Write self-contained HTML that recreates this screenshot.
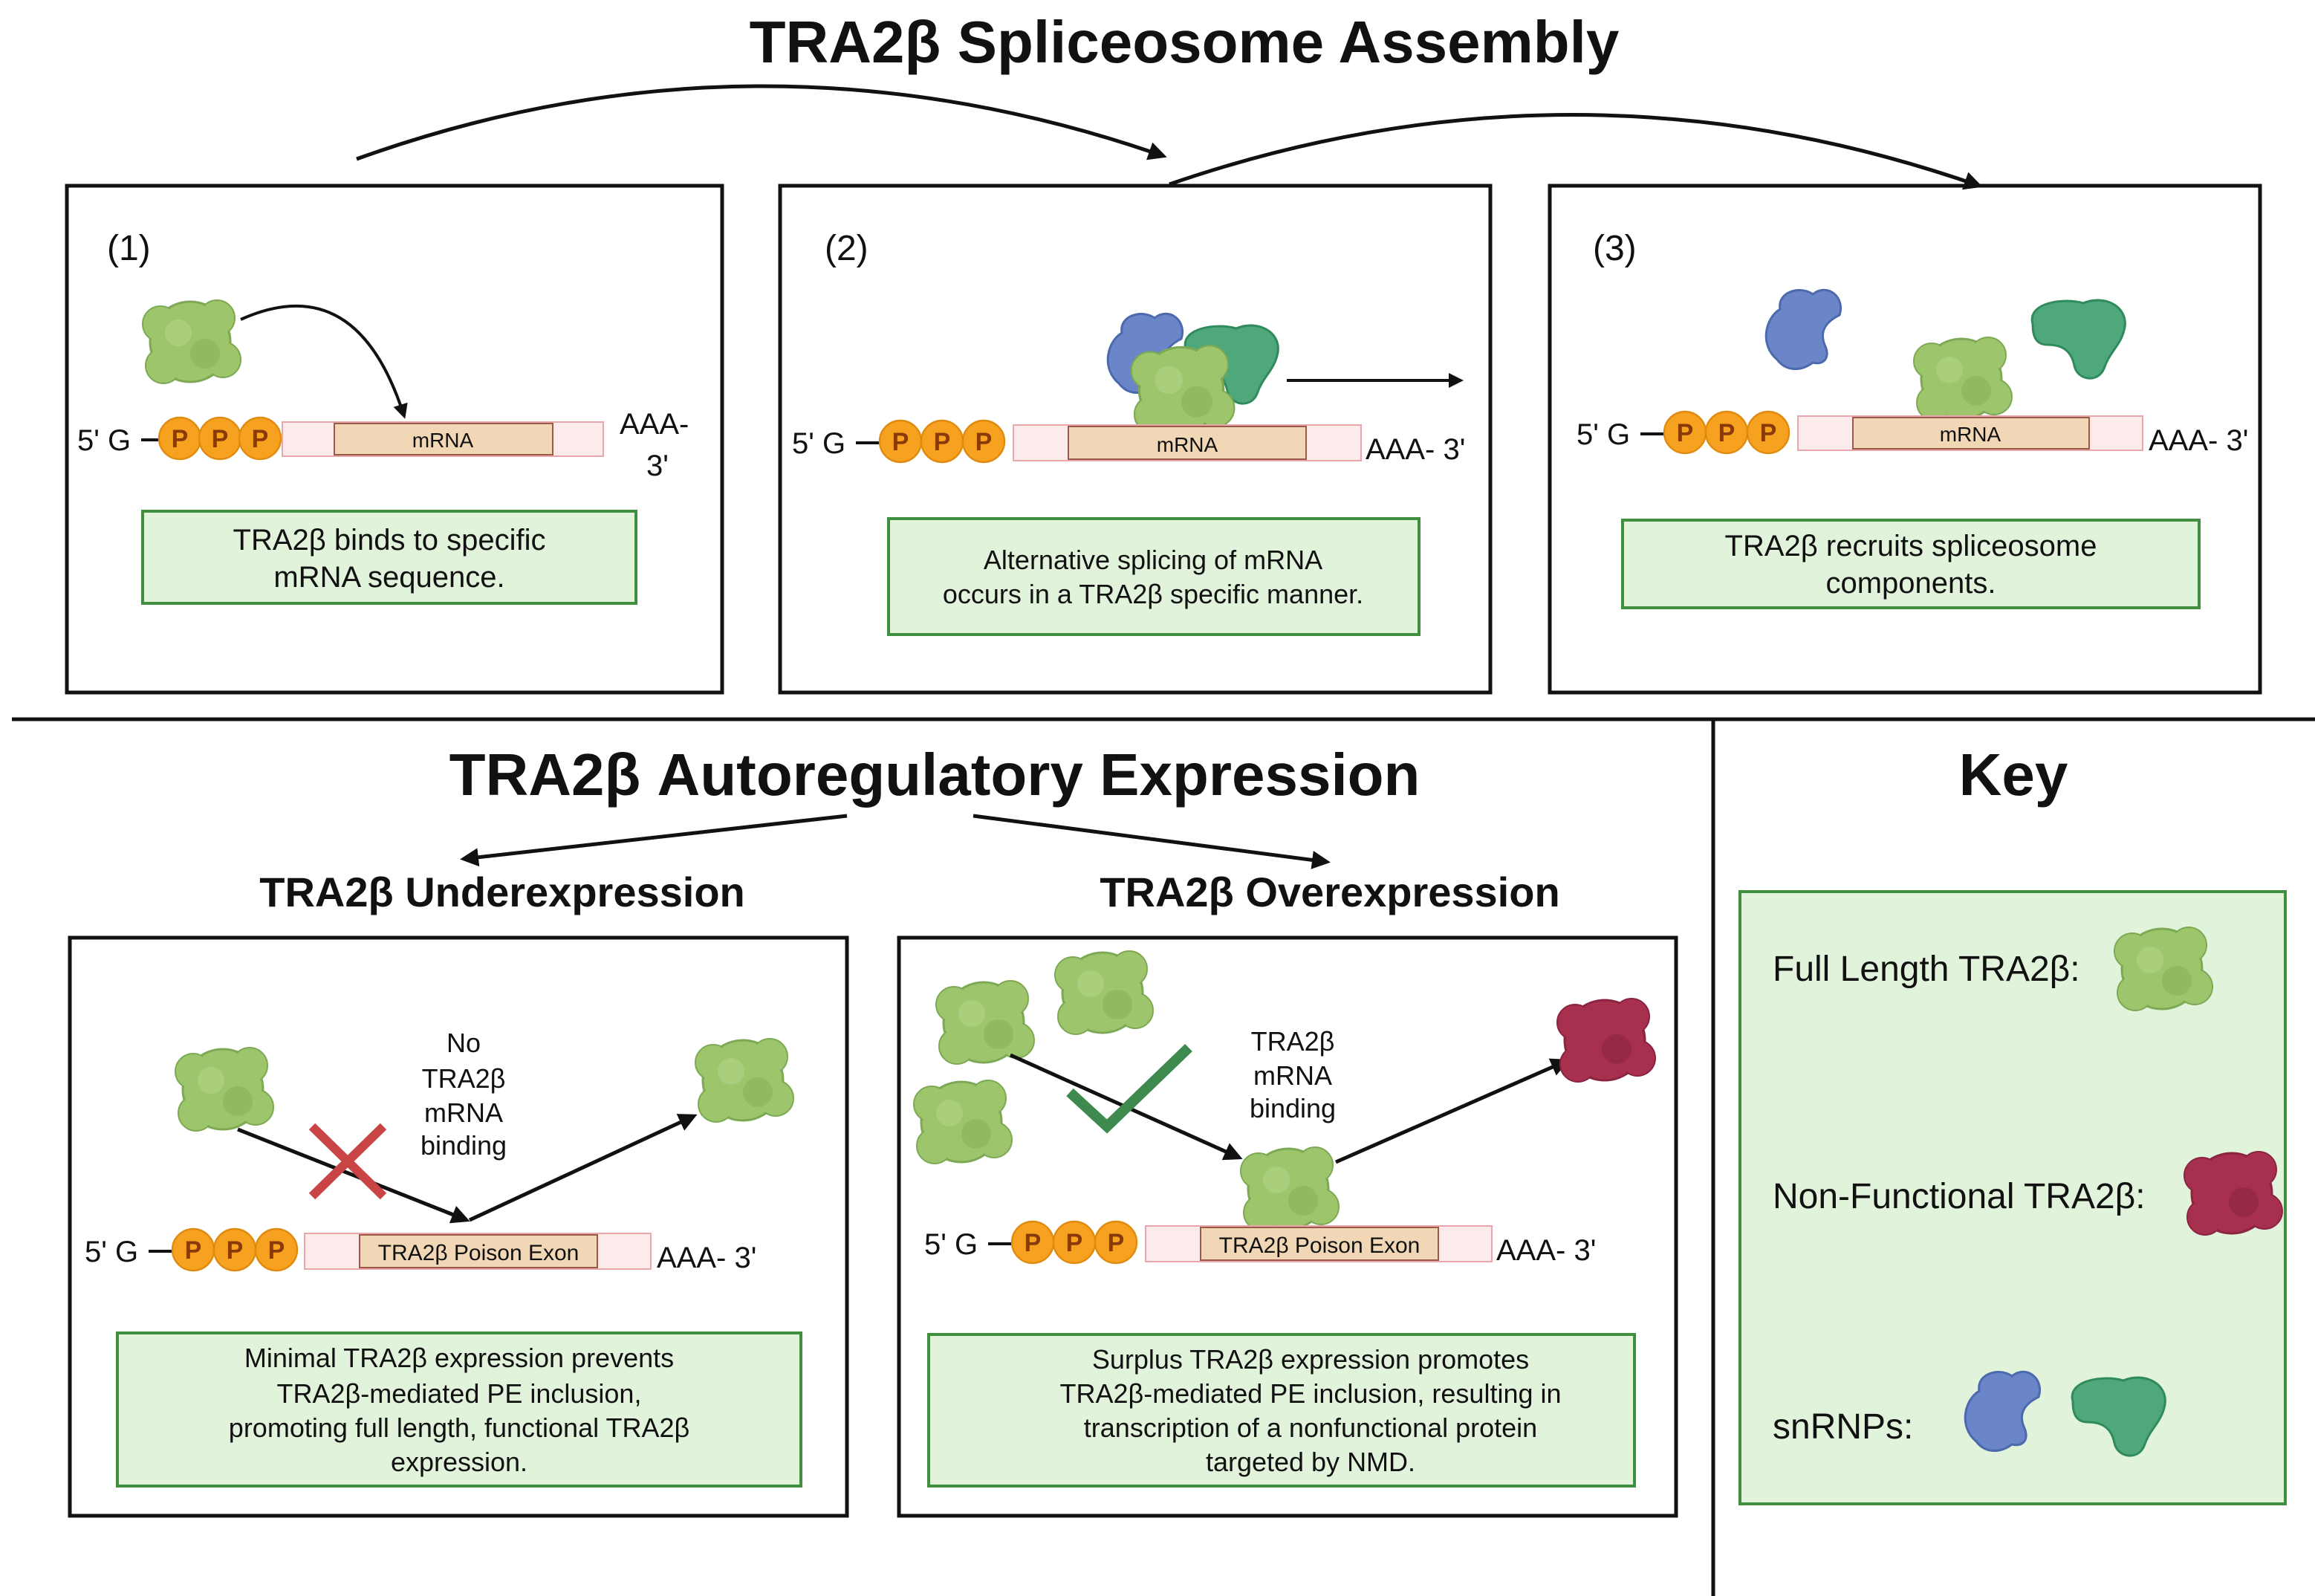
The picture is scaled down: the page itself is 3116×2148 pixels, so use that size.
<!DOCTYPE html>
<html><head><meta charset="utf-8"><style>
html,body{margin:0;padding:0;background:#fff}
svg{display:block}
text{font-family:"Liberation Sans",sans-serif;fill:#111}
.b{font-weight:bold}
</style></head><body>
<svg width="3116" height="2148" viewBox="0 0 1558 1074" xmlns="http://www.w3.org/2000/svg">
<defs>
<marker id="ah" viewBox="0 0 10 10" refX="8" refY="5" markerWidth="5" markerHeight="5" orient="auto"><path d="M0,0L10,5L0,10z" fill="#111"/></marker>
<g id="lg">
 <circle cx="0" cy="0" r="27" fill="#9cc56c" stroke="#7da955" stroke-width="1.5"/>
 <circle cx="-20" cy="-12" r="12" fill="#9cc56c" stroke="#7da955"/>
 <circle cx="18" cy="-16" r="12" fill="#9cc56c" stroke="#7da955"/>
 <circle cx="22" cy="12" r="12" fill="#9cc56c" stroke="#7da955"/>
 <circle cx="-18" cy="16" r="12" fill="#9cc56c" stroke="#7da955"/>
 <circle cx="0" cy="0" r="26" fill="#9cc56c"/>
 <circle cx="-8" cy="-6" r="9" fill="#a9cf7c"/><circle cx="10" cy="8" r="10" fill="#8fbb5e"/>
</g>
<g id="rd">
 <circle cx="0" cy="0" r="27" fill="#a8304f" stroke="#8a2440" stroke-width="1.5"/>
 <circle cx="-20" cy="-12" r="12" fill="#a8304f" stroke="#8a2440"/>
 <circle cx="18" cy="-16" r="12" fill="#a8304f" stroke="#8a2440"/>
 <circle cx="22" cy="12" r="12" fill="#a8304f" stroke="#8a2440"/>
 <circle cx="-18" cy="16" r="12" fill="#a8304f" stroke="#8a2440"/>
 <circle cx="0" cy="0" r="26" fill="#a8304f"/><circle cx="8" cy="6" r="10" fill="#962a46"/>
</g>
<g id="bl">
 <path d="M-22,20 C-34,10 -30,-8 -20,-14 C-22,-26 -6,-30 2,-24 C12,-32 24,-22 20,-10 C12,-6 6,0 10,10 C14,18 10,24 2,22 C-6,28 -16,28 -22,20z" fill="#6a86c9" stroke="#4d69ad" stroke-width="1.5"/>
</g>
<g id="gr">
 <path d="M-30,-10 C-34,-24 -10,-28 4,-24 C18,-30 34,-22 32,-8 C30,4 22,8 18,20 C14,30 0,28 -2,18 C-4,8 -10,4 -20,4 C-28,4 -30,-2 -30,-10z" fill="#4fa87c" stroke="#2f8a5c" stroke-width="1.5"/>
</g>
<g id="p">
 <circle r="14" fill="#f6a11f" stroke="#e08a10" stroke-width="1.2"/>
 <text y="6" text-anchor="middle" font-size="17" class="b" style="fill:#8a3a0a">P</text>
</g>
</defs>

<text x="797" y="42" text-anchor="middle" font-size="40" class="b">TRA2β Spliceosome Assembly</text>
<path d="M240,107 Q510,10 783,105" fill="none" stroke="#111" stroke-width="2.5" marker-end="url(#ah)"/>
<path d="M787,124 Q1060,30 1332,125" fill="none" stroke="#111" stroke-width="2.5" marker-end="url(#ah)"/>

<g fill="none" stroke="#111" stroke-width="2.5">
<rect x="45" y="125" width="441" height="341"/>
<rect x="525" y="125" width="478" height="341"/>
<rect x="1043" y="125" width="478" height="341"/>
<rect x="47" y="631" width="523" height="389"/>
<rect x="605" y="631" width="523" height="389"/>
<line x1="8" y1="484" x2="1560" y2="484"/>
<line x1="1153" y1="484" x2="1153" y2="1074"/>
</g>

<!-- Panel 1 -->
<text x="72" y="175" font-size="24">(1)</text>
<use href="#lg" x="128" y="230"/>
<path d="M162,215 Q240,180 272,280" fill="none" stroke="#111" stroke-width="2" marker-end="url(#ah)"/>
<text x="52" y="303" font-size="20">5' G</text>
<line x1="95" y1="296" x2="110" y2="296" stroke="#111" stroke-width="2"/>
<use href="#p" x="121" y="295"/><use href="#p" x="148" y="295"/><use href="#p" x="175" y="295"/>
<rect x="190" y="284" width="216" height="23" fill="#fdeaea" stroke="#e9a7ac"/>
<rect x="225" y="285" width="147" height="21" fill="#f1d7b5" stroke="#9a5a4a"/>
<text x="298" y="301" text-anchor="middle" font-size="14">mRNA</text>
<text x="417" y="292" font-size="20">AAA-</text><text x="435" y="320" font-size="20">3'</text>
<rect x="96" y="344" width="332" height="62" fill="#e2f3dc" stroke="#3f8f3f" stroke-width="2"/>
<text x="262" y="370" text-anchor="middle" font-size="20">TRA2β binds to specific</text>
<text x="262" y="395" text-anchor="middle" font-size="20">mRNA sequence.</text>

<!-- Panel 2 -->
<text x="555" y="175" font-size="24">(2)</text>
<use href="#bl" x="775" y="238"/>
<use href="#gr" x="828" y="245"/>
<use href="#lg" x="795" y="262" transform="translate(795,262) scale(1.05) translate(-795,-262)"/>
<line x1="866" y1="256" x2="983" y2="256" stroke="#111" stroke-width="2" marker-end="url(#ah)"/>
<text x="533" y="305" font-size="20">5' G</text>
<line x1="576" y1="298" x2="594" y2="298" stroke="#111" stroke-width="2"/>
<use href="#p" x="606" y="297"/><use href="#p" x="634" y="297"/><use href="#p" x="662" y="297"/>
<rect x="682" y="286" width="234" height="24" fill="#fdeaea" stroke="#e9a7ac"/>
<rect x="719" y="287" width="160" height="22" fill="#f1d7b5" stroke="#9a5a4a"/>
<text x="799" y="304" text-anchor="middle" font-size="14">mRNA</text>
<text x="919" y="309" font-size="20">AAA- 3'</text>
<rect x="598" y="349" width="357" height="78" fill="#e2f3dc" stroke="#3f8f3f" stroke-width="2"/>
<text x="776" y="383" text-anchor="middle" font-size="18">Alternative splicing of mRNA</text>
<text x="776" y="406" text-anchor="middle" font-size="18">occurs in a TRA2β specific manner.</text>

<!-- Panel 3 -->
<text x="1072" y="175" font-size="24">(3)</text>
<use href="#bl" x="1218" y="222"/>
<use href="#gr" x="1398" y="228"/>
<use href="#lg" x="1320" y="255"/>
<text x="1061" y="299" font-size="20">5' G</text>
<line x1="1104" y1="292" x2="1122" y2="292" stroke="#111" stroke-width="2"/>
<use href="#p" x="1134" y="291"/><use href="#p" x="1162" y="291"/><use href="#p" x="1190" y="291"/>
<rect x="1210" y="280" width="232" height="23" fill="#fdeaea" stroke="#e9a7ac"/>
<rect x="1247" y="281" width="159" height="21" fill="#f1d7b5" stroke="#9a5a4a"/>
<text x="1326" y="297" text-anchor="middle" font-size="14">mRNA</text>
<text x="1446" y="303" font-size="20">AAA- 3'</text>
<rect x="1092" y="350" width="388" height="59" fill="#e2f3dc" stroke="#3f8f3f" stroke-width="2"/>
<text x="1286" y="374" text-anchor="middle" font-size="20">TRA2β recruits spliceosome</text>
<text x="1286" y="399" text-anchor="middle" font-size="20">components.</text>

<!-- Bottom -->
<text x="629" y="535" text-anchor="middle" font-size="40" class="b">TRA2β Autoregulatory Expression</text>
<text x="1355" y="535" text-anchor="middle" font-size="40" class="b">Key</text>
<line x1="570" y1="549" x2="312" y2="578" stroke="#111" stroke-width="2.5" marker-end="url(#ah)"/>
<line x1="655" y1="549" x2="893" y2="580" stroke="#111" stroke-width="2.5" marker-end="url(#ah)"/>
<text x="338" y="610" text-anchor="middle" font-size="28" class="b">TRA2β Underexpression</text>
<text x="895" y="610" text-anchor="middle" font-size="28" class="b">TRA2β Overexpression</text>

<!-- Under -->
<use href="#lg" x="150" y="733"/>
<use href="#lg" x="500" y="727"/>
<text x="312" y="708" text-anchor="middle" font-size="18">No</text>
<text x="312" y="732" text-anchor="middle" font-size="18">TRA2β</text>
<text x="312" y="755" text-anchor="middle" font-size="18">mRNA</text>
<text x="312" y="777" text-anchor="middle" font-size="18">binding</text>
<line x1="160" y1="760" x2="314" y2="821" stroke="#111" stroke-width="2.5" marker-end="url(#ah)"/>
<line x1="316" y1="821" x2="467" y2="751" stroke="#111" stroke-width="2.5" marker-end="url(#ah)"/>
<path d="M210,758L258,805M258,758L210,805" stroke="#c94444" stroke-width="6"/>
<text x="57" y="849" font-size="20">5' G</text>
<line x1="100" y1="842" x2="118" y2="842" stroke="#111" stroke-width="2"/>
<use href="#p" x="130" y="841"/><use href="#p" x="158" y="841"/><use href="#p" x="186" y="841"/>
<rect x="205" y="830" width="233" height="24" fill="#fdeaea" stroke="#e9a7ac"/>
<rect x="242" y="831" width="160" height="22" fill="#f1d7b5" stroke="#9a5a4a"/>
<text x="322" y="848" text-anchor="middle" font-size="15">TRA2β Poison Exon</text>
<text x="442" y="853" font-size="20">AAA- 3'</text>
<rect x="79" y="897" width="460" height="103" fill="#e2f3dc" stroke="#3f8f3f" stroke-width="2"/>
<text x="309" y="920" text-anchor="middle" font-size="18">Minimal TRA2β expression prevents</text>
<text x="309" y="944" text-anchor="middle" font-size="18">TRA2β-mediated PE inclusion,</text>
<text x="309" y="967" text-anchor="middle" font-size="18">promoting full length, functional TRA2β</text>
<text x="309" y="990" text-anchor="middle" font-size="18">expression.</text>

<!-- Over -->
<use href="#lg" x="662" y="688"/>
<use href="#lg" x="742" y="668"/>
<use href="#lg" x="647" y="755"/>
<line x1="680" y1="710" x2="834" y2="779" stroke="#111" stroke-width="2.5" marker-end="url(#ah)"/>
<path d="M720,735L745,758L800,705" fill="none" stroke="#3e8a4e" stroke-width="7"/>
<text x="870" y="707" text-anchor="middle" font-size="18">TRA2β</text>
<text x="870" y="730" text-anchor="middle" font-size="18">mRNA</text>
<text x="870" y="752" text-anchor="middle" font-size="18">binding</text>
<use href="#lg" x="867" y="800"/>
<line x1="899" y1="782" x2="1054" y2="714" stroke="#111" stroke-width="2.5" marker-end="url(#ah)"/>
<use href="#rd" x="1080" y="700"/>
<text x="622" y="844" font-size="20">5' G</text>
<line x1="665" y1="837" x2="683" y2="837" stroke="#111" stroke-width="2"/>
<use href="#p" x="695" y="836"/><use href="#p" x="723" y="836"/><use href="#p" x="751" y="836"/>
<rect x="771" y="825" width="233" height="24" fill="#fdeaea" stroke="#e9a7ac"/>
<rect x="808" y="826" width="160" height="22" fill="#f1d7b5" stroke="#9a5a4a"/>
<text x="888" y="843" text-anchor="middle" font-size="15">TRA2β Poison Exon</text>
<text x="1007" y="848" font-size="20">AAA- 3'</text>
<rect x="625" y="898" width="475" height="102" fill="#e2f3dc" stroke="#3f8f3f" stroke-width="2"/>
<text x="882" y="921" text-anchor="middle" font-size="18">Surplus TRA2β expression promotes</text>
<text x="882" y="944" text-anchor="middle" font-size="18">TRA2β-mediated PE inclusion, resulting in</text>
<text x="882" y="967" text-anchor="middle" font-size="18">transcription of a nonfunctional protein</text>
<text x="882" y="990" text-anchor="middle" font-size="18">targeted by NMD.</text>

<!-- Key -->
<rect x="1171" y="600" width="367" height="412" fill="#e2f3dc" stroke="#3f8f3f" stroke-width="2"/>
<text x="1193" y="660" font-size="24">Full Length TRA2β:</text>
<use href="#lg" x="1455" y="652"/>
<text x="1193" y="813" font-size="24">Non-Functional TRA2β:</text>
<use href="#rd" x="1502" y="803"/>
<text x="1193" y="968" font-size="24">snRNPs:</text>
<use href="#bl" x="1352" y="950"/>
<use href="#gr" x="1425" y="953"/>
</svg>
</body></html>
